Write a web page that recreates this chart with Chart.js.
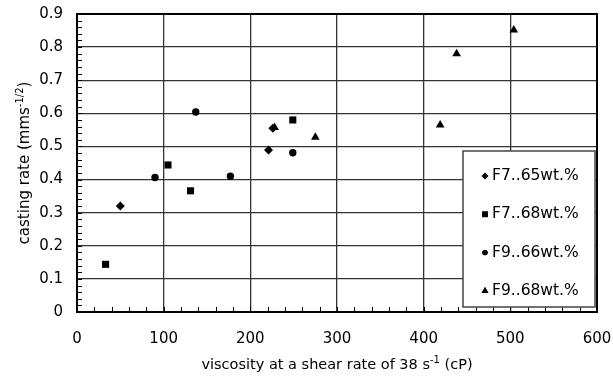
<!DOCTYPE html>
<html>
<head>
<meta charset="utf-8">
<script src="https://cdn.jsdelivr.net/npm/chart.js@4.4.0/dist/chart.umd.min.js"></script>
<style>
  body { margin: 0; background: #fff; }
  #wrap { width: 613px; height: 382px; }
</style>
</head>
<body>
<div id="wrap"><canvas id="chart" width="613" height="382"></canvas></div>
<script>
// series (viscosity cP, casting rate)
const seriesNames = ["F7..65wt.%", "F7..68wt.%", "F9..66wt.%", "F9..68wt.%"];
const f765x = [50, 221, 226];
const f765y = [0.32, 0.489, 0.555];
const f768x = [33, 105, 131, 249];
const f768y = [0.144, 0.444, 0.366, 0.58];
const f966x = [90, 137, 177, 249];
const f966y = [0.406, 0.604, 0.41, 0.481];
const f968x = [228, 275, 419, 438, 504];
const f968y = [0.557, 0.528, 0.565, 0.78, 0.852];
const xTicks = [0, 100, 200, 300, 400, 500, 600];
const yTicks = [0, 0.1, 0.2, 0.3, 0.4, 0.5, 0.6, 0.7, 0.8, 0.9];

const FONT = "'DejaVu Sans', sans-serif";
const toPts = (xs, ys) => xs.map((x, i) => ({ x: x, y: ys[i] }));

// minor ticks, axis titles with superscripts, legend box
const extras = {
  id: "extras",
  afterDraw(chart) {
    const { ctx, chartArea: a, scales } = chart;
    const xs = scales.x, ys = scales.y;
    ctx.save();
    ctx.strokeStyle = "#000";
    ctx.lineWidth = 1;
    ctx.beginPath();
    for (let v = 0; v <= 600; v += 20) {
      const px = Math.round(xs.getPixelForValue(v)) + 0.5;
      ctx.moveTo(px, a.bottom);
      ctx.lineTo(px, a.bottom - 5);
    }
    for (let v = 0; v <= 90; v += 2) {
      const py = Math.round(ys.getPixelForValue(v / 100)) + 0.5;
      ctx.moveTo(a.left, py);
      ctx.lineTo(a.left + 5, py);
    }
    ctx.stroke();
    ctx.lineWidth = 2;
    ctx.strokeRect(a.left, a.top, a.right - a.left, a.bottom - a.top);

    // x title
    ctx.fillStyle = "#000";
    ctx.textBaseline = "alphabetic";
    const xParts = [["viscosity at a shear rate of 38 s", 14.5, 0], ["-1", 10, -6], [" (cP)", 14.5, 0]];
    let w = 0;
    xParts.forEach(p => { ctx.font = p[1] + "px " + FONT; w += ctx.measureText(p[0]).width; });
    let cx = (a.left + a.right) / 2 - w / 2;
    xParts.forEach(p => {
      ctx.font = p[1] + "px " + FONT;
      ctx.fillText(p[0], cx, 369 + p[2]);
      cx += ctx.measureText(p[0]).width;
    });

    // y title
    ctx.translate(29, (a.top + a.bottom) / 2);
    ctx.rotate(-Math.PI / 2);
    const yParts = [["casting rate (mms", 15, 0], ["-1/2", 10, -6], [")", 15, 0]];
    w = 0;
    yParts.forEach(p => { ctx.font = p[1] + "px " + FONT; w += ctx.measureText(p[0]).width; });
    cx = -w / 2;
    yParts.forEach(p => {
      ctx.font = p[1] + "px " + FONT;
      ctx.fillText(p[0], cx, 0 + p[2]);
      cx += ctx.measureText(p[0]).width;
    });
    ctx.restore();

    // legend
    ctx.save();
    const bx = 463, by = 151, bw = a.right - 463 - 2, bh = 156;
    ctx.fillStyle = "#fff";
    ctx.fillRect(bx, by, bw, bh);
    ctx.strokeStyle = "#444";
    ctx.lineWidth = 1.5;
    ctx.strokeRect(bx, by, bw, bh);
    ctx.font = "15.5px " + FONT;
    ctx.textBaseline = "middle";
    chart.data.datasets.forEach((ds, i) => {
      const ly = 176 + i * 38.3;
      Chart.helpers.drawPoint(ctx, {
        pointStyle: ds.pointStyle, radius: ds.pointRadius - 1, rotation: 0, borderWidth: 0
      }, 485, ly);
      ctx.fillStyle = "#000";
      ctx.fill();
      ctx.fillText(ds.label, 492, ly);
    });
    ctx.restore();
  }
};

const mk = (label, pts, style, r) => ({
  label: label,
  data: pts,
  pointStyle: style,
  pointRadius: r,
  pointHoverRadius: r,
  backgroundColor: "#000",
  borderColor: "#000",
  borderWidth: 0,
  showLine: false
});

new Chart(document.getElementById("chart"), {
  type: "scatter",
  data: {
    datasets: [
      mk(seriesNames[0], toPts(f765x, f765y), "rectRot", 4.5),
      mk(seriesNames[1], toPts(f768x, f768y), "rect", 5),
      mk(seriesNames[2], toPts(f966x, f966y), "circle", 3.7),
      mk(seriesNames[3], toPts(f968x, f968y), "triangle", 5)
    ]
  },
  options: {
    responsive: false,
    animation: false,
    layout: { padding: { top: 14, right: 16, left: 0, bottom: 0 } },
    plugins: { legend: { display: false }, tooltip: { enabled: false } },
    scales: {
      x: {
        type: "linear",
        min: 0,
        max: 600,
        afterBuildTicks: (s) => { s.ticks = xTicks.map(v => ({ value: v })); },
        afterFit: (s) => { s.height = 70; s.paddingRight = 0; s.paddingLeft = 0; },
        grid: { color: "#333", lineWidth: 1.3, drawTicks: false },
        border: { display: true, color: "#000", width: 2 },
        ticks: { color: "#000", padding: 18, font: { family: FONT, size: 15 } }
      },
      y: {
        min: 0,
        max: 0.9,
        afterBuildTicks: (s) => { s.ticks = yTicks.map(v => ({ value: v })); },
        afterFit: (s) => { s.width = 77; s.paddingTop = 0; s.paddingBottom = 0; },
        grid: { color: "#333", lineWidth: 1.3, drawTicks: false },
        border: { display: true, color: "#000", width: 2 },
        ticks: { color: "#000", padding: 14, font: { family: FONT, size: 15 },
          callback: (v) => v === 0 ? "0" : v.toFixed(1) }
      }
    }
  },
  plugins: [extras]
});
</script>
</body>
</html>
